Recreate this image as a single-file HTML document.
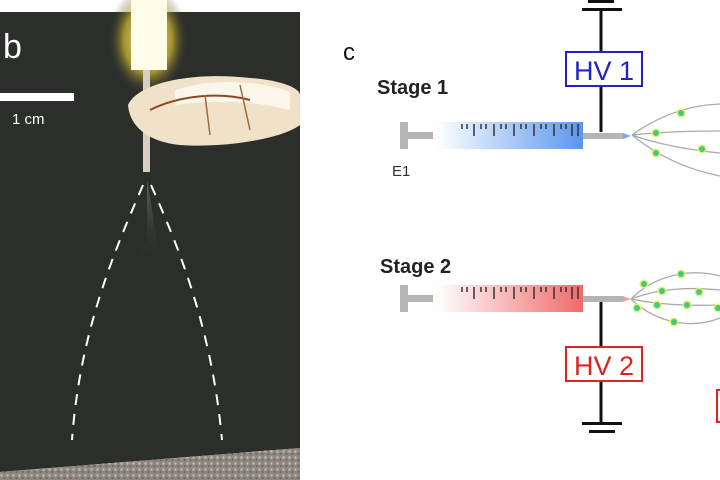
<!DOCTYPE html>
<html><head><meta charset="utf-8"><style>
html,body{margin:0;padding:0;background:#fff;width:720px;height:480px;overflow:hidden}
svg{display:block}
text{font-family:"Liberation Sans",Arial,sans-serif}
</style></head><body>
<svg width="720" height="480" viewBox="0 0 720 480" xmlns="http://www.w3.org/2000/svg">
<defs>
<linearGradient id="bl" x1="0" x2="1"><stop offset="0" stop-color="#fff"/><stop offset="1" stop-color="#5a96ee"/></linearGradient>
<linearGradient id="rd" x1="0" x2="1"><stop offset="0" stop-color="#fff"/><stop offset="1" stop-color="#f06a6a"/></linearGradient>
<radialGradient id="glow" cx="0.5" cy="0.5" r="0.5"><stop offset="0" stop-color="#fff8c0"/><stop offset="0.6" stop-color="#d8c030" stop-opacity="0.7"/><stop offset="1" stop-color="#3a3a30" stop-opacity="0"/></radialGradient>
<linearGradient id="spray" x1="0" y1="0" x2="0" y2="1"><stop offset="0" stop-color="#9aa8a0" stop-opacity="0.8"/><stop offset="1" stop-color="#2a3a2e" stop-opacity="0"/></linearGradient>
<g id="dot"><circle r="4.5" fill="#e8f060"/><circle r="3" fill="#40c890"/></g>
<pattern id="grav" width="6" height="6" patternUnits="userSpaceOnUse"><rect width="6" height="6" fill="#8e8880"/><circle cx="1.5" cy="1.5" r="1.2" fill="#c4bcb0"/><circle cx="4.5" cy="4" r="1" fill="#6a625a"/></pattern>
</defs>
<!-- photo -->
<polygon points="0,12 300,12 300,448 0,472" fill="#2c2e2c"/>
<polygon points="0,472 300,448 300,480 0,480" fill="url(#grav)"/>
<ellipse cx="148" cy="40" rx="40" ry="55" fill="url(#glow)"/>
<rect x="131" y="0" width="36" height="70" fill="#fffde8"/>
<rect x="143" y="70" width="7" height="102" fill="#d8cfc0"/>
<path d="M128,105 C140,80 200,72 250,78 C280,80 300,88 300,95 L300,125 C280,140 220,148 180,145 C150,142 130,128 128,105 Z" fill="#efe2c8"/>
<path d="M175,90 C210,78 260,80 290,92 L290,110 C250,100 210,100 175,105 Z" fill="#fbf6ea"/>
<path d="M150,110 C180,95 220,92 250,100" stroke="#8a4a20" stroke-width="2" fill="none"/>
<path d="M205,95 L210,135 M240,85 L250,130" stroke="#a06a40" stroke-width="1.5" fill="none"/>
<path d="M147,180 L147,240 L135,260 L160,260 Z" fill="url(#spray)" opacity="0.6"/>
<path d="M143,185 C115,250 80,330 72,440" stroke="#fff" stroke-width="2" stroke-dasharray="11,9" fill="none"/>
<path d="M151,185 C180,250 212,330 222,440" stroke="#fff" stroke-width="2" stroke-dasharray="11,9" fill="none"/>
<text x="3" y="58" font-size="34" fill="#fff">b</text>
<rect x="0" y="93" width="74" height="8" fill="#fff"/>
<text x="12" y="124" font-size="15" fill="#fff">1 cm</text>
<!-- panel c -->
<text x="343" y="60" font-size="24" fill="#111">c</text>
<rect x="588" y="0" width="26" height="3" fill="#111"/>
<rect x="582" y="8" width="40" height="3" fill="#111"/>
<line x1="601" y1="9" x2="601" y2="132" stroke="#111" stroke-width="3"/>
<rect x="566" y="52" width="76" height="34" fill="#fff" stroke="#2222cc" stroke-width="2"/>
<text x="604" y="80" font-size="27" fill="#2222cc" text-anchor="middle">HV 1</text>
<text x="377" y="94" font-size="20" font-weight="bold" fill="#222">Stage 1</text>
<rect x="400" y="122" width="8" height="27" fill="#b4b4b4"/>
<rect x="408" y="132" width="25" height="7" fill="#b4b4b4"/>
<rect x="436" y="122" width="147" height="27" fill="url(#bl)"/>
<g stroke="#333" stroke-width="1.5">
<path d="M462,124v5M467,124v5M474,124v12M481,124v5M486,124v5M494,124v12M501,124v5M506,124v5M514,124v12M521,124v5M526,124v5M534,124v12M541,124v5M546,124v5M554,124v12M561,124v5M566,124v5M572,124v12M578,124v12"/>
</g>
<rect x="583" y="133" width="40" height="6" fill="#b4b4b4"/>
<polygon points="623,133 631,136 623,139" fill="#7aa8f0"/>
<text x="392" y="176" font-size="15" fill="#333">E1</text>
<g stroke="#aaa" stroke-width="1.3" fill="none">
<path d="M632,135 C660,115 690,105 720,104"/>
<path d="M632,135 C660,132 690,131 720,131"/>
<path d="M632,135 C660,145 690,150 720,153"/>
<path d="M632,135 C660,158 690,170 720,176"/>
</g>
<use href="#dot" x="681" y="113"/><use href="#dot" x="656" y="133"/><use href="#dot" x="656" y="153"/><use href="#dot" x="702" y="149"/>
<!-- stage 2 -->
<text x="380" y="273" font-size="20" font-weight="bold" fill="#222">Stage 2</text>
<rect x="400" y="285" width="8" height="27" fill="#b4b4b4"/>
<rect x="408" y="295" width="25" height="7" fill="#b4b4b4"/>
<rect x="436" y="285" width="147" height="27" fill="url(#rd)"/>
<g stroke="#333" stroke-width="1.5">
<path d="M462,287v5M467,287v5M474,287v12M481,287v5M486,287v5M494,287v12M501,287v5M506,287v5M514,287v12M521,287v5M526,287v5M534,287v12M541,287v5M546,287v5M554,287v12M561,287v5M566,287v5M572,287v12M578,287v12"/>
</g>
<rect x="583" y="296" width="40" height="6" fill="#b4b4b4"/>
<polygon points="623,296 631,299 623,302" fill="#f0a0a0"/>
<line x1="601" y1="302" x2="601" y2="424" stroke="#111" stroke-width="3"/>
<rect x="566" y="347" width="76" height="34" fill="#fff" stroke="#dd2222" stroke-width="2"/>
<text x="604" y="375" font-size="27" fill="#dd2222" text-anchor="middle">HV 2</text>
<rect x="582" y="422" width="40" height="3" fill="#111"/>
<rect x="589" y="430" width="26" height="3" fill="#111"/>
<g stroke="#aaa" stroke-width="1.3" fill="none">
<path d="M631,299 C655,275 690,268 720,276"/>
<path d="M631,299 C660,288 690,287 720,290"/>
<path d="M631,299 C660,305 690,306 720,305"/>
<path d="M631,299 C655,322 690,330 720,318"/>
</g>
<use href="#dot" x="681" y="274"/><use href="#dot" x="644" y="284"/><use href="#dot" x="662" y="291"/><use href="#dot" x="699" y="292"/>
<use href="#dot" x="637" y="308"/><use href="#dot" x="657" y="305"/><use href="#dot" x="687" y="305"/><use href="#dot" x="718" y="308"/><use href="#dot" x="674" y="322"/>
<rect x="717" y="390" width="6" height="32" fill="none" stroke="#dd2222" stroke-width="2"/>
</svg>
</body></html>
